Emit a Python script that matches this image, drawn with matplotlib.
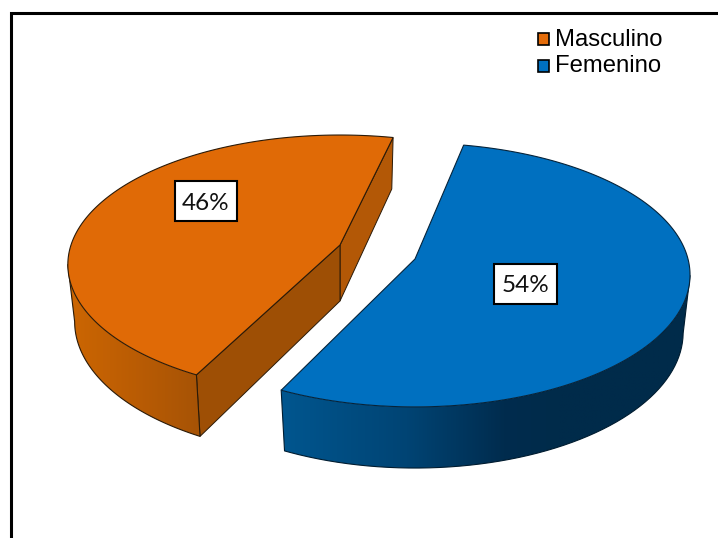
import numpy as np
import matplotlib
matplotlib.use('Agg')
import matplotlib.pyplot as plt
from matplotlib.patches import Polygon, Rectangle
from matplotlib.colors import LinearSegmentedColormap

categories = ['Masculino', 'Femenino']
values = [46, 54]
labels = ['46%', '54%']

top_colors = ['#E06A06', '#0070C0']
legend_colors = ['#E46C0A', '#0070C0']

# pixel layout of the reference, one entry per slice
W, H = 718, 538
start_angles = [76.9, 78.5]
apexes = [(340, 245), (415, 259)]
As = [269, 273]
Bs = [126.7, 130]
Ks = [0.152, 0.121]
depths = [56, 57]
SHRINK = 0.975
N = 300

wall_maps = [
    LinearSegmentedColormap.from_list('o', [(0, '#CC6602'), (0.5, '#BA5C04'), (1, '#A65306')]),
    LinearSegmentedColormap.from_list('b', [(0, '#00568F'), (0.45, '#004474'), (0.8, '#002C4E'), (1, '#002B4A')]),
]
wall_x = [(70, 200), (281, 560)]
cut_colors = ['#B35806', '#9E4F05']


def project(i, ang, r=1.0, low=False):
    # circle in the pie plane, seen with some perspective
    X = r * np.cos(np.radians(ang))
    Y = r * np.sin(np.radians(ang))
    w = 1 + Ks[i] * Y
    x = As[i] * X / w
    y = Bs[i] * Y / w
    if low:
        return apexes[i][0] + SHRINK * x, apexes[i][1] - SHRINK * y + depths[i] / w
    return apexes[i][0] + x, apexes[i][1] - y


fig = plt.figure(figsize=(W / 100, H / 100), dpi=100)
ax = fig.add_axes([0, 0, 1, 1])

# outer frame, cut off by the image on two sides
ax.plot([10.5, 10.5, W + 5], [H + 5, 13, 13], color='black', lw=2.2, solid_joinstyle='miter', zorder=1)

edge = '#2A1A08'
# Masculino runs counter clockwise from the start, Femenino clockwise
spans = [
    (start_angles[0], start_angles[0] + values[0] / sum(values) * 360),
    (start_angles[1], start_angles[1] - values[1] / sum(values) * 360),
]

for i in range(len(values)):
    a0, a1 = spans[i]
    angs = np.linspace(a0, a1, N)
    tx, ty = project(i, angs)
    bx, by = project(i, angs, low=True)
    zb = 2 + i * 10

    # cut faces, only Masculino shows them
    if i == 0:
        for j, a in enumerate([a0, a1]):
            x0, y0 = project(i, a)
            x1, y1 = project(i, a, low=True)
            cx, cy = project(i, a, r=0.0)
            lx, ly = project(i, a, r=0.0, low=True)
            ax.add_patch(Polygon([(cx, cy), (x0, y0), (x1, y1), (lx, ly)], closed=True,
                                 facecolor=cut_colors[j], edgecolor=edge, lw=0.7, zorder=zb))

    # outer wall: from the widest point of the rim to the front, gradient along x
    front = np.sin(np.radians(angs)) < -Ks[i]
    poly = np.r_[np.c_[tx[front], ty[front]], np.c_[bx[front], by[front]][::-1]]
    wall = Polygon(poly, closed=True, facecolor='none', edgecolor='none', transform=ax.transData)
    ax.add_patch(wall)
    x_lo, x_hi = poly[:, 0].min() - 2, poly[:, 0].max() + 2
    xs = np.linspace(x_lo, x_hi, 512)
    lo, hi = wall_x[i]
    grad = wall_maps[i](np.clip((xs - lo) / (hi - lo), 0, 1))[None, :, :]
    im = ax.imshow(grad, extent=(x_lo, x_hi, poly[:, 1].max() + 2, poly[:, 1].min() - 2),
                   aspect='auto', interpolation='bilinear', zorder=zb + 1)
    im.set_clip_path(wall)

    line_col = edge if i == 0 else '#001C30'
    # outline: side silhouette, bottom rim, vertical edge at the slice end
    sx = np.r_[tx[front][0], bx[front], tx[front][-1]]
    sy = np.r_[ty[front][0], by[front], ty[front][-1]]
    ax.plot(sx, sy, color=line_col, lw=0.8, zorder=zb + 2)

    # top surface
    ax.add_patch(Polygon(np.c_[np.r_[apexes[i][0], tx], np.r_[apexes[i][1], ty]], closed=True,
                         facecolor=top_colors[i], edgecolor=edge if i == 0 else '#05233A',
                         lw=0.8, joinstyle='miter', zorder=zb + 3))

# value labels
boxes = [(175, 181, 62, 40), (494, 264, 63, 40)]
for lab, (x, y, w, h) in zip(labels, boxes):
    ax.add_patch(Rectangle((x, y), w, h, facecolor='white', edgecolor='black', lw=1.5, zorder=30))
    ax.text(x + w / 2, y + h / 2, lab, ha='center', va='center_baseline', fontsize=17.5,
            family='Lato', color='#111111', zorder=31)

# legend
for i, name in enumerate(categories):
    y = 32 + i * 27
    ax.add_patch(Rectangle((537.5, y + 0.5), 11.5, 12, facecolor=legend_colors[i], edgecolor='black', lw=1.2, zorder=30))
    ax.text(555, y + 7.5, name, ha='left', va='center', fontsize=17.2, family='Liberation Sans', color='black', zorder=31)

ax.set_xlim(0, W)
ax.set_ylim(H, 0)
ax.axis('off')

fig.savefig('out.png', dpi=100)
